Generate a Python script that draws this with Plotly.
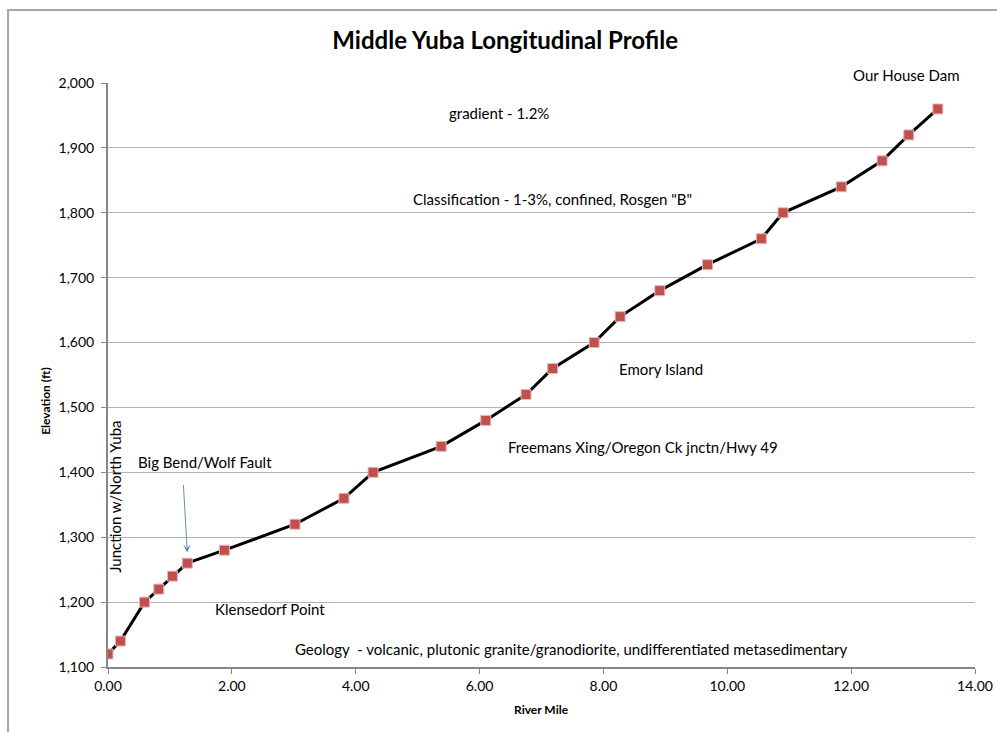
import plotly.graph_objects as go

# River profile survey points: river mile vs. channel elevation (ft)
river_mile = [0.00, 0.20, 0.59, 0.82, 1.04, 1.28, 1.88, 3.02, 3.81, 4.28, 5.38,
              6.10, 6.75, 7.18, 7.85, 8.27, 8.91, 9.68, 10.55, 10.90, 11.84,
              12.50, 12.93, 13.40]
elevation = [1120, 1140, 1200, 1220, 1240, 1260, 1280, 1320, 1360, 1400, 1440,
             1480, 1520, 1560, 1600, 1640, 1680, 1720, 1760, 1800, 1840,
             1880, 1920, 1960]

# Site / description labels placed in data coordinates
label_text = ["gradient - 1.2%",
              'Classification - 1-3%, confined, Rosgen "B"',
              "Emory Island",
              "Freemans Xing/Oregon Ck jnctn/Hwy 49",
              "Big Bend/Wolf Fault",
              "Klensedorf Point",
              "Geology  - volcanic, plutonic granite/granodiorite, undifferentiated metasedimentary"]
label_x = [6.31, 7.17, 8.93, 8.64, 1.57, 2.62, 7.48]
label_y = [1954, 1821, 1559, 1439, 1416, 1189, 1128]

FONT = "Lato, 'Open Sans', sans-serif"

fig = go.Figure()
fig.add_trace(go.Scatter(
    x=river_mile, y=elevation, mode="lines+markers",
    line=dict(color="black", width=3),
    marker=dict(symbol="square", size=10, color="#C0504D",
                line=dict(color="#E6B9B8", width=1)),
    showlegend=False, hoverinfo="x+y"))

annotations = []
for t, x, y in zip(label_text, label_x, label_y):
    annotations.append(dict(x=x, y=y, xref="x", yref="y", text=t, showarrow=False,
                            font=dict(family=FONT, size=15, color="black")))

# dam label sits just above the top of the elevation range
annotations.append(dict(x=12.89, y=1.014, xref="x", yref="paper", yanchor="middle",
                        text="Our House Dam", showarrow=False,
                        font=dict(family=FONT, size=15, color="black")))

# vertical label at the confluence
annotations.append(dict(x=0.11, y=1362, xref="x", yref="y", text="Junction w/North Yuba",
                        textangle=-90, showarrow=False,
                        font=dict(family=FONT, size=15, color="black")))

# pointer arrow to the Big Bend / Wolf Fault point
annotations.append(dict(x=1.28, y=1277, ax=1.216, ay=1383, xref="x", yref="y",
                        axref="x", ayref="y", text="", showarrow=True,
                        arrowhead=3, arrowsize=1.4, arrowwidth=0.9, arrowcolor="#4F81BD"))

# axis titles
annotations.append(dict(x=0.5, y=-0.089, xref="paper", yref="paper", text="<b>River Mile</b>",
                        showarrow=False, font=dict(family=FONT, size=12, color="black")))
annotations.append(dict(x=-0.083, y=0.455, xref="paper", yref="paper", text="<b>Elevation (ft)</b>",
                        textangle=-90, showarrow=False,
                        font=dict(family=FONT, size=12, color="black")))

fig.update_layout(
    width=997, height=732,
    margin=dict(l=108, r=22, t=83, b=65),
    paper_bgcolor="white", plot_bgcolor="white",
    title=dict(text="<b>Middle Yuba Longitudinal Profile</b>", x=0.5067, xanchor="center",
               y=0.945, yanchor="middle",
               font=dict(family=FONT, size=24, color="black")),
    annotations=annotations,
    shapes=[dict(type="rect", xref="paper", yref="paper",
                 x0=-0.1153, y0=-0.14, x1=1.04, y1=1.125,
                 line=dict(color="#A6A6A6", width=2), fillcolor="rgba(0,0,0,0)", layer="below")],
)

fig.update_xaxes(range=[0, 14], dtick=2, tick0=0, tickformat=".2f",
                 showgrid=False, zeroline=False, automargin=False,
                 showline=True, linecolor="#868686", linewidth=2,
                 ticks="outside", ticklen=5, tickcolor="#868686",
                 tickfont=dict(family=FONT, size=14, color="black"))
fig.update_yaxes(range=[1100, 2000], dtick=100, tickformat=",",
                 showgrid=True, gridcolor="#B3B3B3", gridwidth=1, zeroline=False,
                 automargin=False,
                 showline=True, linecolor="#868686", linewidth=2,
                 ticks="outside", ticklen=5, tickcolor="#868686",
                 ticklabelstandoff=4,
                 tickfont=dict(family=FONT, size=14, color="black"))

fig.write_html("out.html")
